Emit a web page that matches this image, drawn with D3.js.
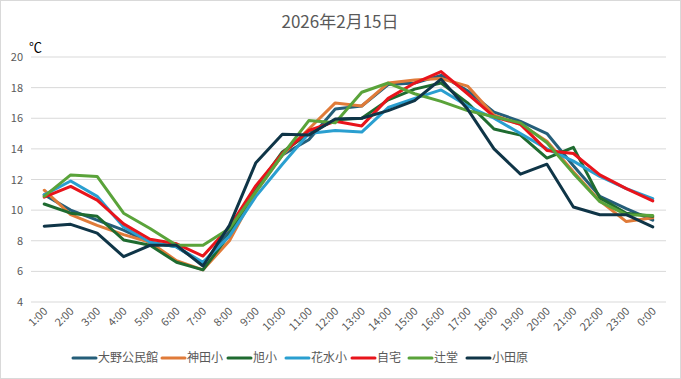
<!DOCTYPE html>
<html>
<head>
<meta charset="utf-8">
<script src="https://cdn.jsdelivr.net/npm/d3@7"></script>
<style>
  body { margin: 0; background: #fff; }
  svg text { font-family: "Noto Sans CJK JP", "Noto Sans", sans-serif; }
</style>
</head>
<body>
<div class="chart"></div>
<script>
let width = 681;
let height = 379;

let hours = ['1:00','2:00','3:00','4:00','5:00','6:00','7:00','8:00','9:00','10:00','11:00','12:00',
             '13:00','14:00','15:00','16:00','17:00','18:00','19:00','20:00','21:00','22:00','23:00','0:00'];
let yTicks = [4, 6, 8, 10, 12, 14, 16, 18, 20];

let names = ['大野公民館','神田小','旭小','花水小','自宅','辻堂','小田原'];
let colors = ['#255e79','#e07b39','#1f6b30','#2a9fd0','#e8141b','#5aa33a','#0f3547'];

let ono      = [11.0,10.0,9.35,8.7,7.9,7.6,6.5,8.6,11.3,13.6,14.6,16.6,16.8,18.2,18.3,18.8,17.8,16.4,15.8,15.0,12.9,10.9,10.1,9.35];
let kanda    = [11.3,9.7,9.0,8.4,7.9,6.7,6.1,8.0,11.2,13.6,15.3,17.0,16.8,18.3,18.5,18.6,18.1,16.2,15.6,14.5,12.5,10.6,9.25,9.5];
let asahi    = [10.4,9.8,9.6,8.05,7.7,6.6,6.1,8.4,11.4,13.8,15.0,15.9,16.0,17.2,17.9,18.3,17.0,15.3,14.9,13.4,14.1,10.8,9.8,9.6];
let hanamizu = [11.0,11.9,10.9,8.9,7.9,7.6,6.6,8.3,10.9,13.0,15.0,15.2,15.1,16.7,17.3,17.85,16.8,16.0,15.0,14.0,13.2,12.2,11.4,10.75];
let jitaku   = [10.85,11.55,10.65,9.1,8.1,7.8,7.0,8.9,11.6,13.7,15.2,15.8,15.5,17.3,18.3,19.05,17.6,16.1,15.6,13.9,13.7,12.3,11.4,10.6];
let tsujido  = [10.9,12.3,12.2,9.8,8.8,7.7,7.7,8.8,11.2,13.6,15.85,15.7,17.7,18.3,17.6,17.1,16.5,16.1,15.7,14.4,12.4,10.55,9.7,9.65];
let odawara  = [8.95,9.07,8.5,6.96,7.7,7.7,6.35,9.0,13.1,14.95,14.9,15.95,16.0,16.5,17.15,18.55,16.6,14.0,12.35,13.0,10.2,9.7,9.7,8.9];
let series = [ono, kanda, asahi, hanamizu, jitaku, tsujido, odawara];

let svg = d3.select('.chart').append('svg')
  .attr('width', width)
  .attr('height', height);

svg.append('rect')
  .attr('x', 0.5).attr('y', 0.5)
  .attr('width', width - 1).attr('height', height - 1)
  .attr('fill', '#fff')
  .attr('stroke', '#d9d9d9');

svg.append('text')
  .attr('x', 340)
  .attr('y', 28)
  .attr('text-anchor', 'middle')
  .style('font-size', '17px')
  .style('fill', '#595959')
  .text('2026年2月15日');

svg.append('text')
  .attr('x', 29)
  .attr('y', 52)
  .style('font-size', '13px')
  .style('fill', '#000')
  .text('℃');

let xScale = d3.scaleBand().domain(hours).range([31, 666]);
let yScale = d3.scaleLinear().domain([4, 20]).range([302, 57]);

// gridlines
svg.append('g')
  .selectAll('line')
  .data(yTicks)
  .enter()
  .append('line')
  .attr('x1', 31).attr('x2', 666)
  .attr('y1', d => yScale(d)).attr('y2', d => yScale(d))
  .attr('stroke', '#d9d9d9')
  .attr('stroke-width', 1);

let yAxis = d3.axisLeft(yScale).tickValues(yTicks).tickSize(0).tickPadding(8);
let gy = svg.append('g')
  .attr('transform', 'translate(31,0)')
  .call(yAxis);
gy.select('.domain').remove();
gy.selectAll('text').style('font-size', '11px').style('fill', '#595959');

let xAxis = d3.axisBottom(xScale).tickSize(0).tickPadding(0);
let gx = svg.append('g')
  .attr('transform', 'translate(0,302)')
  .call(xAxis);
gx.select('.domain').remove();
gx.selectAll('text')
  .style('font-size', '11px')
  .style('fill', '#595959')
  .attr('text-anchor', 'end')
  .attr('dy', null)
  .attr('y', 0)
  .attr('transform', 'translate(4,10) rotate(-45)');

let line = d3.line()
  .x((d, i) => xScale(hours[i]) + xScale.bandwidth() / 2)
  .y(d => yScale(d));

svg.append('g')
  .selectAll('path')
  .data(series)
  .enter()
  .append('path')
  .attr('d', d => line(d))
  .attr('fill', 'none')
  .attr('stroke', (d, i) => colors[i])
  .attr('stroke-width', 3)
  .attr('stroke-linejoin', 'round')
  .attr('stroke-linecap', 'round');

// legend
let legendX = [73, 162, 228, 286, 352, 409, 467];
let legend = svg.append('g')
  .selectAll('g')
  .data(names)
  .enter()
  .append('g')
  .attr('transform', (d, i) => 'translate(' + legendX[i] + ',358)');
legend.append('line')
  .attr('x1', 0).attr('x2', 23)
  .attr('y1', 0).attr('y2', 0)
  .attr('stroke', (d, i) => colors[i])
  .attr('stroke-width', 3)
  .attr('stroke-linecap', 'round');
legend.append('text')
  .attr('x', 25)
  .attr('y', 4)
  .style('font-size', '12px')
  .style('fill', '#595959')
  .text(d => d);
</script>
</body>
</html>
